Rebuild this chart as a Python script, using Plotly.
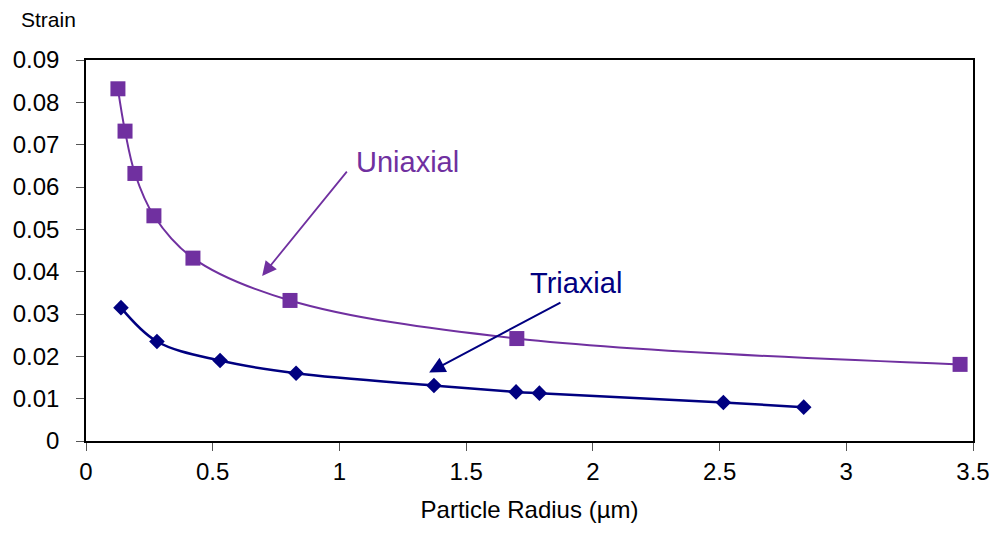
import plotly.graph_objects as go

# Strain vs particle radius
uni_radius = [0.126, 0.154, 0.193, 0.268, 0.422, 0.805, 1.70, 3.449]
uni_strain = [0.0832, 0.0732, 0.0632, 0.0532, 0.0432, 0.0332, 0.0242, 0.0181]

tri_radius = [0.138, 0.28, 0.529, 0.829, 1.373, 1.697, 1.789, 2.515, 2.832]
tri_strain = [0.0315, 0.0235, 0.019, 0.016, 0.0131, 0.0116, 0.0113, 0.0091, 0.008]

x_ticks = [0, 0.5, 1, 1.5, 2, 2.5, 3, 3.5]
x_labels = ["0", "0.5", "1", "1.5", "2", "2.5", "3", "3.5"]
y_ticks = [0, 0.01, 0.02, 0.03, 0.04, 0.05, 0.06, 0.07, 0.08, 0.09]
y_labels = ["0", "0.01", "0.02", "0.03", "0.04", "0.05", "0.06", "0.07", "0.08", "0.09"]

PURPLE = "#7030A0"
NAVY = "#000080"
FONT = "Liberation Sans, Arial, sans-serif"

fig = go.Figure()
fig.add_trace(go.Scatter(
    x=uni_radius, y=uni_strain, mode="lines+markers", name="Uniaxial",
    line=dict(color=PURPLE, width=2, shape="spline", smoothing=1.0),
    marker=dict(symbol="square", size=15, color=PURPLE),
))
fig.add_trace(go.Scatter(
    x=tri_radius, y=tri_strain, mode="lines+markers", name="Triaxial",
    line=dict(color=NAVY, width=2.5, shape="spline", smoothing=1.0),
    marker=dict(symbol="diamond", size=12, color=NAVY),
))

# Labels with pointer arrows
fig.add_annotation(x=1.267, y=0.066, text="Uniaxial", showarrow=False,
                   font=dict(family=FONT, size=29, color=PURPLE))
fig.add_annotation(x=0.695, y=0.039, ax=1.034, ay=0.064, axref="x", ayref="y",
                   text="", showarrow=True, arrowhead=2, arrowsize=1.6,
                   arrowwidth=1.8, arrowcolor=PURPLE)
fig.add_annotation(x=1.934, y=0.0374, text="Triaxial", showarrow=False,
                   font=dict(family=FONT, size=29, color=NAVY))
fig.add_annotation(x=1.354, y=0.0162, ax=1.878, ay=0.0329, axref="x", ayref="y",
                   text="", showarrow=True, arrowhead=2, arrowsize=1.6,
                   arrowwidth=2, arrowcolor=NAVY)

# Vertical axis caption above the tick labels
fig.add_annotation(xref="paper", yref="paper", x=-0.042, y=1.07,
                   xanchor="center", yanchor="bottom", text="Strain",
                   showarrow=False, font=dict(family=FONT, size=21, color="black"))

fig.update_layout(
    width=998, height=535,
    margin=dict(l=86, r=25, t=60, b=94, autoexpand=False),
    plot_bgcolor="white", paper_bgcolor="white",
    showlegend=False,
    font=dict(family=FONT, size=24, color="black"),
)

fig.update_xaxes(
    range=[0, 3.5], tickvals=x_ticks, ticktext=x_labels, automargin=False,
    showgrid=False, zeroline=False, showline=True, linecolor="black",
    linewidth=1.5, mirror=True, ticks="outside", ticklen=8, tickcolor="#555",
    tickfont=dict(family=FONT, size=24), ticklabelstandoff=0,
    title=dict(text="Particle Radius (µm)", font=dict(family=FONT, size=24), standoff=18),
)
fig.update_yaxes(
    range=[0, 0.09], tickvals=y_ticks, ticktext=y_labels, automargin=False,
    showgrid=False, zeroline=False, showline=True, linecolor="black",
    linewidth=1.5, mirror=True, ticks="outside", ticklen=8, tickcolor="#555",
    tickfont=dict(family=FONT, size=24), ticklabelstandoff=12,
)

fig.write_html("out.html")
